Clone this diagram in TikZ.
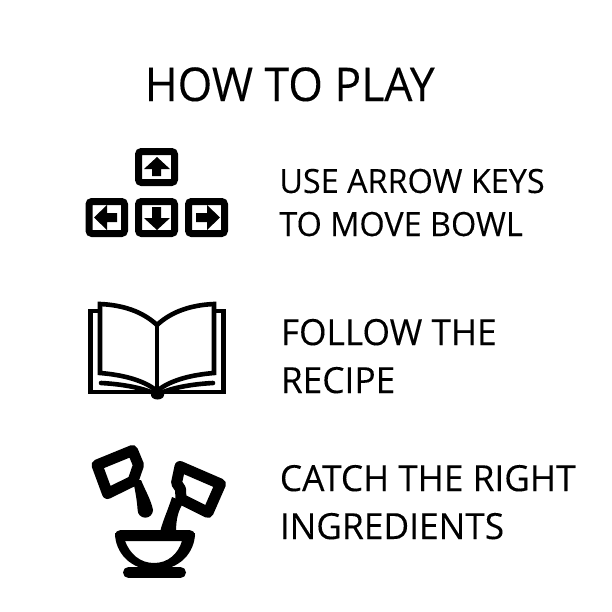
\documentclass[tikz,border=0pt]{standalone}
\usepackage{fontspec}
\setmainfont{Open Sans}
\newfontfamily\titlefont[FakeStretch=0.955,FakeBold=0.15]{Open Sans}
\newfontfamily\keysfont[FakeStretch=0.97,FakeBold=0.15]{Open Sans}
\newfontfamily\lblfont[FakeStretch=0.98,FakeBold=0.15]{Open Sans}
\begin{document}
\begin{tikzpicture}[
  x=0.02cm,y=-0.02cm,
  title/.style={anchor=base west,inner sep=0pt,font=\titlefont\fontsize{26.5}{30}\selectfont},
  lblkeys/.style={anchor=base west,inner sep=0pt,align=left,font=\keysfont\fontsize{19}{24.5}\selectfont},
  lbl/.style={anchor=base west,inner sep=0pt,align=left,font=\lblfont\fontsize{20.5}{27.3}\selectfont},
  keycap/.style={draw=black,line width=7*0.02cm,rounded corners=0.06cm},
  keyarrow/.style={fill=black},
  ink/.style={draw=black,line width=4.6*0.02cm},
  inkround/.style={draw=black,line width=4.6*0.02cm,line cap=round},
  thick ink/.style={draw=black,line width=11*0.02cm,line join=round,line cap=round},
]
\useasboundingbox[fill=white] (0,0) rectangle (612,612);

\node[title] (howto) at (144.5,101) {HOW TO PLAY};

% keys
\draw[keycap] (138.5,151.5) rectangle (174.5,182.5);
\draw[keycap] (89,201.5) rectangle (124.5,233.5);
\draw[keycap] (138.5,201.5) rectangle (174.5,233.5);
\draw[keycap] (188.5,201.5) rectangle (224.5,233.5);
\fill[keyarrow] (157,157) -- (170,169) -- (161,169) -- (161,176) -- (152,176) -- (152,169) -- (144,169) -- cycle;
\fill[keyarrow] (94,217.5) -- (107,205) -- (107,213) -- (117,213) -- (117,222) -- (107,222) -- (107,230) -- cycle;
\fill[keyarrow] (157,230) -- (144,218) -- (152,218) -- (152,207) -- (161,207) -- (161,218) -- (170,218) -- cycle;
\fill[keyarrow] (220,217.5) -- (207,205) -- (207,213) -- (196,213) -- (196,222) -- (207,222) -- (207,230) -- cycle;
\node[lblkeys] (arrowlbl) at (279,236) {USE ARROW KEYS\\TO MOVE BOWL};

% book
\draw[ink] (98,311) -- (90.5,311) -- (90.5,392) -- (223.5,392) -- (223.5,311) -- (216,311);
\draw[ink] (157,325) .. controls (142,311) and (122,305) .. (100,304) -- (100,373) .. controls (125,375) and (145,381) .. (157,391);
\draw[ink] (157,325) .. controls (172,311) and (192,305) .. (214,304) -- (214,373) .. controls (189,375) and (169,381) .. (157,391);
\draw[ink] (157,325) -- (157,393);
\draw[inkround] (101,383) .. controls (120,384) and (138,387) .. (151,392);
\draw[inkround] (213,383) .. controls (194,384) and (176,387) .. (163,392);
\fill (151,391) -- (164,391) -- (164,395) arc (0:180:6.5 and 4.5) -- cycle;
\node[lbl] (recipelbl) at (280.5,393) {FOLLOW THE\\RECIPE};

% bowl and spoons
\draw[thick ink] (97,465) -- (132.5,450.5) -- (138.5,465) -- (133,481) -- (107.5,493.5) -- cycle;
\draw[thick ink] (180,466.5) -- (220.5,484) -- (208,512.5) -- (181,499) -- (180.5,489) -- (176.5,483) -- cycle;
\fill (141,480) .. controls (146,492) and (151,500) .. (153,510) arc (0:180:7.7) .. controls (137,500) and (135,490) .. (133,480) -- cycle;
\fill (184,502) .. controls (178,510) and (176,520) .. (176,532) -- (160,532) .. controls (163,520) and (168,510) .. (172,497) -- cycle;
\draw[thick ink] (120.5,535.5) -- (189.5,535.5);
\draw[thick ink] (128.5,572.5) -- (180.5,572.5);
\fill[even odd rule] (115,533) -- (195,533) .. controls (195,552) and (180,570) .. (155,570) .. controls (130,570) and (115,552) .. (115,533) -- cycle
  (125,541) -- (182,541) .. controls (178,554) and (168,563) .. (154,563) .. controls (140,563) and (130,554) .. (125,541) -- cycle;
\node[lbl] (catchlbl) at (279.5,539) {CATCH THE RIGHT\\INGREDIENTS};
\end{tikzpicture}
\end{document}
